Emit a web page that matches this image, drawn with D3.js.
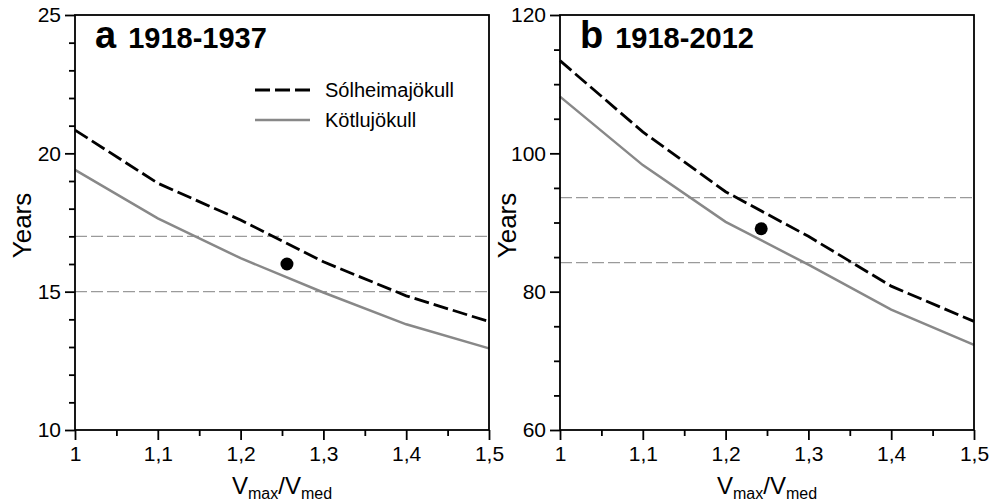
<!DOCTYPE html>
<html>
<head>
<meta charset="utf-8">
<script src="https://cdn.jsdelivr.net/npm/d3@7"></script>
<style>
  body { margin: 0; background: #fff; }
  svg { font-family: "Liberation Sans", Arial, Helvetica, sans-serif; }
  .axis text { font-size: 21px; fill: #000; }
  .axis line, .axis path { stroke: #000; stroke-width: 1.8; }
</style>
</head>
<body>
<svg id="chart" width="992" height="503"></svg>
<script>
// ratio of max to median velocity
const vRatio = [1, 1.1, 1.2, 1.3, 1.4, 1.5];

// panel a: 1918-1937
const solheimaA = [20.84, 18.92, 17.59, 16.08, 14.85, 13.92];
const kotluA = [19.4, 17.65, 16.21, 14.97, 13.82, 12.95];
const refA = [17, 15];
const obsA = [1.256, 16.0];

// panel b: 1918-2012
const solheimaB = [113.4, 103.1, 94.45, 88.0, 80.8, 75.7];
const kotluB = [108.2, 98.3, 90.1, 83.9, 77.4, 72.3];
const refB = [93.6, 84.2];
const obsB = [1.243, 89.1];

const xTicks = [1, 1.1, 1.2, 1.3, 1.4, 1.5];
const legendNames = ['Sólheimajökull', 'Kötlujökull'];

const svg = d3.select('#chart');
const plotTop = 15, plotBottom = 430;
const fmt = d => String(d).replace('.', ',');

const panels = [
  { left: 75, right: 489, letter: 'a', period: '1918-1937', yDomain: [10, 25], yMajor: 5, yMinor: 1,
    s1: solheimaA, s2: kotluA, refs: refA, obs: obsA, legend: true },
  { left: 560, right: 974, letter: 'b', period: '1918-2012', yDomain: [60, 120], yMajor: 20, yMinor: 5,
    s1: solheimaB, s2: kotluB, refs: refB, obs: obsB, legend: false }
];

panels.forEach(p => {
  const x = d3.scaleLinear().domain([1, 1.5]).range([p.left, p.right]);
  const y = d3.scaleLinear().domain(p.yDomain).range([plotBottom, plotTop]);
  const g = svg.append('g');

  // reference lines
  g.selectAll('.ref')
    .data(p.refs)
    .join('line')
    .attr('x1', p.left).attr('x2', p.right)
    .attr('y1', d => y(d)).attr('y2', d => y(d))
    .attr('stroke', '#9a9a9a')
    .attr('stroke-width', 1.3)
    .attr('stroke-dasharray', '12,4');

  const line = d3.line()
    .x((d, i) => x(vRatio[i]))
    .y(d => y(d));

  g.append('path').datum(p.s2)
    .attr('fill', 'none').attr('stroke', '#888').attr('stroke-width', 2.5)
    .attr('d', line);

  g.append('path').datum(p.s1)
    .attr('fill', 'none').attr('stroke', '#000').attr('stroke-width', 2.8)
    .attr('stroke-dasharray', '15,5')
    .attr('d', line);

  g.append('circle')
    .attr('cx', x(p.obs[0])).attr('cy', y(p.obs[1])).attr('r', 6.5)
    .attr('fill', '#000');

  // minor ticks first, majors drawn over them
  const xMinor = d3.range(1.05, 1.5, 0.1);
  g.append('g').attr('class', 'axis')
    .attr('transform', `translate(0,${plotBottom})`)
    .call(d3.axisBottom(x).tickValues(xMinor).tickSize(6).tickFormat(''))
    .call(a => a.select('.domain').remove());
  g.append('g').attr('class', 'axis')
    .attr('transform', `translate(0,${plotBottom})`)
    .call(d3.axisBottom(x).tickValues(xTicks).tickSize(10).tickPadding(6).tickFormat(fmt))
    .call(a => a.select('.domain').remove());

  const yMinor = d3.range(p.yDomain[0], p.yDomain[1] + 0.1, p.yMinor).filter(v => v % p.yMajor !== 0);
  const yMajor = d3.range(p.yDomain[0], p.yDomain[1] + 0.1, p.yMajor);
  g.append('g').attr('class', 'axis')
    .attr('transform', `translate(${p.left},0)`)
    .call(d3.axisLeft(y).tickValues(yMinor).tickSize(6).tickFormat(''))
    .call(a => a.select('.domain').remove());
  g.append('g').attr('class', 'axis')
    .attr('transform', `translate(${p.left},0)`)
    .call(d3.axisLeft(y).tickValues(yMajor).tickSize(10).tickPadding(4))
    .call(a => a.select('.domain').remove());

  // frame
  g.append('rect')
    .attr('x', p.left).attr('y', plotTop)
    .attr('width', p.right - p.left).attr('height', plotBottom - plotTop)
    .attr('fill', 'none').attr('stroke', '#000').attr('stroke-width', 1.8);

  // panel title
  const title = g.append('text').attr('x', p.left + 20).attr('y', 48).attr('font-weight', 'bold');
  title.append('tspan').attr('font-size', 38).text(p.letter);
  title.append('tspan').attr('font-size', 29).attr('dx', 12).text(p.period);

  // axis titles
  g.append('text')
    .attr('transform', `translate(${p.left - 44},${(plotTop + plotBottom) / 2 + 3}) rotate(-90)`)
    .attr('text-anchor', 'middle')
    .attr('font-size', 26)
    .text('Years');

  const xl = g.append('text')
    .attr('x', (p.left + p.right) / 2).attr('y', 494)
    .attr('text-anchor', 'middle')
    .attr('font-size', 24);
  xl.append('tspan').text('V');
  xl.append('tspan').attr('font-size', 16).attr('dy', 5).text('max');
  xl.append('tspan').attr('dy', -5).text('/V');
  xl.append('tspan').attr('font-size', 16).attr('dy', 5).text('med');

  if (p.legend) {
    const lg = g.append('g');
    legendNames.forEach((name, i) => {
      const ly = 90 + i * 30;
      lg.append('line')
        .attr('x1', 255).attr('x2', 310).attr('y1', ly).attr('y2', ly)
        .attr('stroke', i === 0 ? '#000' : '#888')
        .attr('stroke-width', i === 0 ? 2.8 : 2.5)
        .attr('stroke-dasharray', i === 0 ? '15,5' : null);
      lg.append('text')
        .attr('x', 325).attr('y', ly + 7)
        .attr('font-size', 20)
        .text(name);
    });
  }
});
</script>
</body>
</html>
